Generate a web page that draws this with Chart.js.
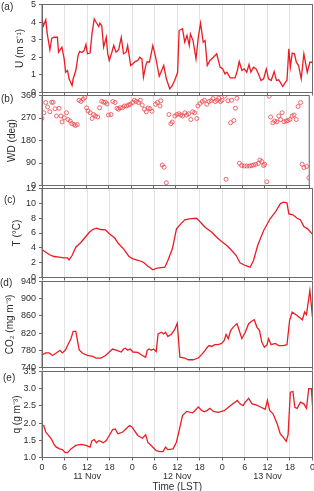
<!DOCTYPE html>
<html><head><meta charset="utf-8">
<script src="https://cdn.jsdelivr.net/npm/chart.js@4.4.0/dist/chart.umd.min.js"></script>
<style>
html,body{margin:0;padding:0;background:#fff;overflow:hidden;width:314px;height:491px;}
canvas{position:absolute;left:0;}
</style></head><body>
<canvas id="pa"></canvas><canvas id="pb"></canvas><canvas id="pc"></canvas><canvas id="pd"></canvas><canvas id="pe"></canvas>
<script>
// ---- shared x axis (hours since 11 Nov 00:00 LST) ----
const dateLabels = ['11 Nov', '12 Nov', '13 Nov'];
const dateHours = [12, 36, 60];

// ---- (a) wind speed U (m s-1) ----
const uHours = [0,0.4,1.0,1.4,2.1,2.6,3.2,4.1,4.4,5.3,5.9,6.3,6.8,7.2,8.0,8.3,9.0,9.6,10.0,10.6,11.2,11.7,12.1,12.8,13.3,13.9,14.4,15.1,15.4,15.9,16.4,17.1,17.5,17.9,18.6,19.1,19.7,20.4,21.1,21.7,22.4,22.8,23.6,24.2,24.8,25.5,26.0,26.6,27.0,27.6,28.0,28.6,29.5,30.3,31.2,32.4,33.1,34.0,34.7,35.3,36.1,36.5,37.4,38.0,38.6,39.2,39.5,40.2,41.0,41.6,42.2,42.9,43.4,44.0,44.7,45.6,46.5,47.4,48.1,48.7,49.2,50.1,51.4,52.0,52.5,53.2,53.8,54.5,55.1,55.6,56.3,57.0,57.6,58.3,59.0,59.7,60.3,61.0,61.8,62.4,63.0,63.4,64.1,64.8,65.2,65.7,66.1,66.6,67.2,67.7,68.3,69.0,69.7,70.6,71.3,72.0];
const uValues = [4.13,3.8,4.13,3.33,2.43,3.09,3.14,3.14,2.29,2.58,1.91,1.15,1.25,0.78,0.4,0.78,1.25,2.1,2.33,2.27,2.38,2.73,2.2,2.24,3.33,4.18,3.99,3.75,3.94,3.8,2.58,3.14,2.2,1.82,2.29,2.67,2.29,2.43,3.14,2.2,2.29,2.67,1.53,1.63,1.76,1.82,2.0,1.91,0.87,1.53,1.76,1.72,2.67,1.95,0.92,1.53,0.78,0.21,0.4,0.68,1.15,3.52,3.62,2.86,3.24,2.67,3.33,2.95,1.91,3.14,3.94,2.86,2.95,1.53,1.82,2.0,2.2,1.44,1.34,1.06,1.15,0.83,0.83,1.25,1.76,1.25,1.34,1.15,1.59,1.15,1.44,1.34,1.06,0.68,0.78,1.34,0.78,0.68,1.19,0.68,0.72,0.59,0.34,0.59,0.68,2.48,1.44,2.24,2.2,1.72,1.53,0.78,2.2,1.15,1.72,1.72];

// ---- (b) wind direction WD (deg) ----
const wdHours = [0,0.5,1.0,1.5,2.1,2.6,3.0,3.5,3.9,4.6,5.1,5.4,6.0,6.6,7.0,7.6,8.0,8.6,9.0,9.5,10.0,10.5,11.1,11.5,12.0,12.4,13.0,13.5,13.9,14.4,15.0,15.5,16.1,16.6,17.1,17.5,17.9,18.6,19.1,19.7,20.2,20.6,21.1,21.7,22.2,22.8,23.3,23.8,24.4,24.9,25.4,26.0,26.5,27.0,27.6,28.1,28.6,29.1,29.6,30.6,31.1,31.8,32.0,32.4,32.9,33.5,34.2,34.7,35.1,35.8,36.3,36.9,37.4,37.9,38.5,39.0,39.5,40.1,40.6,41.1,41.7,42.0,42.6,43.2,43.8,44.4,45.0,45.6,46.1,46.7,47.2,47.6,48.1,48.5,49.2,49.6,50.1,50.8,51.1,51.7,52.1,52.5,53.2,53.8,54.5,55.2,55.9,56.5,57.0,57.6,58.3,58.7,59.2,59.7,60.0,60.6,61.2,61.6,62.2,62.7,63.3,63.8,64.3,64.7,65.2,65.8,66.3,66.8,67.4,67.9,68.5,69.0,69.7,70.1,70.6,71.3,71.9];
const wdValues = [268,291,332,314,295,333,333,307,278,309,278,254,271,291,264,258,248,244,240,244,341,336,345,352,311,298,291,268,284,278,274,311,337,333,333,326,282,284,336,332,309,305,311,311,318,318,322,325,332,341,336,332,341,322,305,295,310,307,297,325,332,318,339,82,73,11,284,247,254,278,284,287,282,278,291,282,287,264,295,291,268,318,328,336,341,325,336,339,348,336,341,349,336,341,358,25,339,251,341,260,309,349,89,80,78,78,78,80,82,85,89,102,96,80,85,15,357,274,251,258,255,278,264,291,255,258,260,264,278,282,264,316,332,85,72,76,31];

// ---- (c) temperature T (degC) ----
const tHours = [0,1.0,1.9,3.2,4.6,5.9,6.8,7.2,8.0,9.0,10.4,11.5,12.6,13.5,14.5,15.7,16.9,17.9,19.3,20.4,21.7,23.1,24.2,25.8,27.0,28.2,28.6,29.5,30.6,32.7,33.5,34.7,35.8,36.7,38.0,39.2,41.1,42.0,43.4,45.2,46.5,47.8,49.2,50.5,51.7,52.7,54.1,55.4,56.3,57.4,59.0,60.8,62.1,63.4,64.2,65.2,65.7,66.8,67.9,68.8,69.7,70.7,71.9];
const tValues = [3.77,3.41,3.1,2.83,2.74,2.65,2.65,2.38,2.96,4.08,4.76,5.43,6.1,6.47,6.64,6.47,6.43,5.89,5.35,4.54,3.87,2.87,2.52,2.29,2.06,1.52,1.39,1.04,1.25,1.39,2.29,3.87,6.56,7.1,7.77,7.91,7.99,7.55,6.78,6.1,5.43,4.85,4.31,3.64,2.96,1.98,1.62,1.39,2.29,4.31,6.33,7.99,8.8,9.93,10.15,10.07,8.58,8.45,7.99,7.77,6.87,6.56,5.89];

// ---- (d) CO2 (mg m-3) ----
const co2Hours = [0.1,1.0,1.9,2.8,3.7,4.8,5.4,6.2,6.8,7.7,8.3,9.0,9.9,10.8,12.1,13.5,14.4,15.7,16.9,17.9,18.8,19.9,21.1,21.7,22.2,22.8,23.5,24.2,25.5,26.7,27.6,28.0,28.5,29.1,29.7,30.4,30.9,31.8,32.4,32.9,33.5,34.5,35.3,36.0,36.7,38.0,38.9,40.2,41.6,42.5,43.4,44.0,44.5,45.2,46.0,46.9,47.8,48.5,49.0,49.6,50.2,50.9,51.9,52.5,53.2,54.1,55.0,55.9,56.5,57.2,57.9,58.5,59.2,59.9,60.3,61.0,62.1,63.0,64.2,65.2,65.9,66.6,67.9,69.3,69.9,70.4,71.3,72.0];
const co2Values = [770,774,774,768,773,780,774,780,791,807,824,824,781,773,768,766,762,762,768,776,783,780,776,783,785,780,783,776,775,768,764,780,783,780,783,777,818,822,818,822,812,818,828,843,764,762,758,758,762,770,780,787,791,789,793,793,796,803,817,807,826,834,842,826,807,822,842,848,851,834,826,799,787,793,807,793,796,791,791,793,849,869,861,851,869,863,919,857];

// ---- (e) absolute humidity q (g m-3) ----
const qHours = [0.4,1.0,1.9,2.6,3.2,3.8,4.7,5.4,6.2,6.8,7.7,9.0,10.4,11.7,12.8,13.3,13.9,14.5,15.1,15.7,16.3,17.1,17.9,18.8,19.5,20.2,21.5,22.8,23.3,24.0,24.6,25.5,26.7,27.6,28.2,28.6,29.5,30.4,31.3,32.2,32.9,33.5,34.9,35.8,36.5,37.4,38.5,40.1,40.7,41.6,42.5,43.2,44.0,44.7,45.6,46.9,48.5,49.3,50.8,52.0,52.7,53.5,54.1,55.0,55.9,57.0,58.3,59.4,60.0,60.6,61.5,62.6,63.4,64.2,65.0,65.5,66.1,66.8,67.3,67.9,68.8,69.7,70.4,71.0,71.7,72.0];
const qValues = [1.95,1.74,1.62,1.52,1.38,1.30,1.25,1.23,1.14,1.14,1.25,1.35,1.38,1.35,1.30,1.49,1.52,1.43,1.49,1.47,1.43,1.49,1.64,1.81,1.83,1.69,1.74,1.88,1.93,1.88,1.78,1.64,1.56,1.66,1.43,1.40,1.30,1.20,1.17,1.17,1.30,1.23,1.25,1.45,1.78,2.22,2.34,2.30,2.36,2.47,2.37,2.33,2.37,2.43,2.34,2.31,2.36,2.43,2.56,2.66,2.56,2.51,2.61,2.72,2.56,2.53,2.46,2.40,2.66,2.37,2.27,1.98,1.69,1.59,1.47,1.66,2.90,2.92,2.46,2.43,2.61,2.56,2.43,3.00,3.00,2.51];

// ---- styling ----
const FONT = "'Liberation Sans', Arial, Helvetica, sans-serif";
const RED = '#ec1c24';
const AXIS = '#6a6a6a';
const TEXT = '#2e2e2e';
const GRID = '#e2e2e2';
const PLOT_LEFT = 42, PLOT_RIGHT = 312.5, W = 314, H_TOTAL = 491;

const pts = (xs, ys) => xs.map((x, i) => ({x: x, y: ys[i]}));

const framePlugin = {
  id: 'frame',
  afterDraw(chart, args, opts) {
    const {ctx, chartArea: a} = chart;
    ctx.save();
    ctx.strokeStyle = AXIS; ctx.lineWidth = 1;
    ctx.strokeRect(a.left, a.top, a.right - a.left, a.bottom - a.top);
    if (opts && opts.text) {
      ctx.fillStyle = TEXT;
      ctx.font = '10px ' + FONT;
      ctx.textAlign = 'left'; ctx.textBaseline = 'middle';
      ctx.fillText(opts.text, opts.x, opts.y - chart.canvas.offsetTop);
    }
    ctx.restore();
  }
};

// titleX = centre of the rotated y-axis title (px from left)
const panels = [
  {id:'pa', label:'(a)', lx:1, ly:7.5, top:4.5, bottom:92.5, min:0, max:5, step:1, title:'U (m s\u207B\u00B9)', titleX:20,
   data: pts(uHours, uValues), kind:'line'},
  {id:'pb', label:'(b)', lx:1, ly:99.5, top:95.5, bottom:185.5, min:0, max:360, step:90, title:'WD (deg)', titleX:12,
   data: pts(wdHours, wdValues), kind:'scatter'},
  {id:'pc', label:'(c)', lx:4, ly:200, top:188.5, bottom:277.5, min:0, max:12, step:2, title:'T (\u00B0C)', titleX:17,
   data: pts(tHours, tValues), kind:'line'},
  {id:'pd', label:'(d)', lx:0, ly:283, top:281.5, bottom:367.5, min:740, max:940, step:20, title:'CO\u2082 (mg m\u207B\u00B3)', titleX:10,
   data: pts(co2Hours, co2Values), kind:'line'},
  {id:'pe', label:'(e)', lx:3, ly:378.5, top:371.5, bottom:457.5, min:1, max:3.5, step:0.5, title:'q (g m\u207B\u00B3)', titleX:17,
   data: pts(qHours, qValues), kind:'line', last:true, fixed:1}
];

function xLabel(v) {
  const hh = String(Math.round(v) % 24);
  const i = dateHours.indexOf(Math.round(v));
  return i >= 0 ? [hh, dateLabels[i]] : hh;
}

panels.forEach(p => {
  const c = document.getElementById(p.id);
  const ctop = Math.floor(p.top - 8);
  const cbot = p.last ? H_TOTAL : Math.ceil(p.bottom + 8);
  const H = cbot - ctop;
  c.width = W; c.height = H;
  c.style.top = ctop + 'px'; c.style.width = W + 'px'; c.style.height = H + 'px';

  const ds = p.kind === 'scatter'
    ? {type:'scatter', data:p.data, showLine:false, pointStyle:'circle', pointRadius:2,
       pointBorderWidth:0.8, borderColor:'#f0444a', backgroundColor:'rgba(255,255,255,0)'}
    : {type:'line', data:p.data, borderColor:RED, borderWidth:1.3, pointRadius:0, tension:0, fill:false};

  new Chart(c, {
    data: {datasets:[ds]},
    options: {
      responsive:false, animation:false, devicePixelRatio:1,
      events: [],
      layout: {padding:{top:p.top - ctop, right:W - PLOT_RIGHT, bottom:0, left:0}},
      plugins: {legend:{display:false}, tooltip:{enabled:false},
                frame:{text:p.label, x:p.lx, y:p.ly}},
      scales: {
        x: {
          type:'linear', position:'bottom', min:0, max:72,
          ticks: {display:!!p.last, stepSize:6, autoSkip:false, maxRotation:0, minRotation:0,
                  padding:2.5, color:TEXT, font:{family:FONT, size:9, lineHeight:1}, callback:xLabel},
          grid: {color:GRID, lineWidth:1, drawTicks:true, tickLength:3, tickColor:AXIS},
          border: {display:true, color:AXIS},
          title: p.last ? {display:true, text:'Time (LST)', color:TEXT,
                           font:{family:FONT, size:10, lineHeight:0.8}, padding:{top:0, bottom:0}}
                        : {display:false},
          afterFit: s => { s.height = cbot - p.bottom; s.paddingLeft = 0; s.paddingRight = 0; }
        },
        y: {
          type:'linear', position:'left', min:p.min, max:p.max,
          ticks: {stepSize:p.step, padding:3, color:TEXT, font:{family:FONT, size:9, lineHeight:1},
                  callback: v => p.fixed ? Number(v).toFixed(p.fixed) : String(v)},
          grid: {drawOnChartArea:false, drawTicks:true, tickLength:3, tickColor:AXIS},
          border: {display:true, color:AXIS},
          title: {display:true, text:p.title, color:TEXT, font:{family:FONT, size:10, lineHeight:1.2},
                  padding:{top:p.titleX - 6, bottom:0}},
          afterFit: s => { s.width = PLOT_LEFT; s.paddingTop = 0; s.paddingBottom = 0; }
        }
      }
    },
    plugins:[framePlugin]
  });
});
</script>
</body></html>
